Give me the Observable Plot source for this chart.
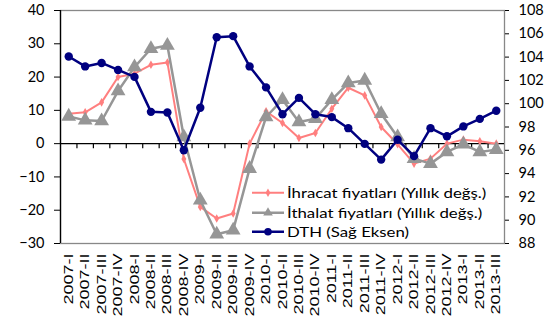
<!DOCTYPE html>
<html><head><meta charset="utf-8">
<script src="https://cdn.jsdelivr.net/npm/d3@7"></script>
<script src="https://cdn.jsdelivr.net/npm/@observablehq/plot@0.6"></script>
<style>
body{margin:0;background:#fff}
#c{position:relative;width:554px;height:317px;overflow:hidden}
#c svg{position:absolute;left:0;top:0}
.leg{position:absolute;left:252px;top:183px;font-family:Lato,sans-serif;font-size:14px;color:#000;line-height:19.5px}
.leg div{display:flex;align-items:center;white-space:nowrap}
.leg svg{position:static!important;margin-right:3px}
.leg span{display:inline-block;transform:scaleX(1.2);transform-origin:0 50%}
</style>
</head><body><div id="c"></div>
<script>
const quarters = ["2007-I","2007-II","2007-III","2007-IV","2008-I","2008-II","2008-III","2008-IV",
  "2009-I","2009-II","2009-III","2009-IV","2010-I","2010-II","2010-III","2010-IV",
  "2011-I","2011-II","2011-III","2011-IV","2012-I","2012-II","2012-III","2012-IV",
  "2013-I","2013-II","2013-III"];
const ihracat = [9.0,9.4,12.4,20.0,21.0,23.7,24.4,-4.6,-19.0,-22.5,-21.0,0.0,9.7,6.2,1.7,3.2,
  10.5,16.8,14.5,5.0,-0.2,-6.0,-4.5,0.0,1.2,0.7,0.0];
const ithalat = [8.2,7.0,6.8,15.8,23.0,28.5,29.5,2.0,-17.0,-27.2,-26.0,-7.5,8.0,13.2,6.5,7.5,
  13.2,18.2,19.0,9.0,2.0,-4.5,-6.0,-2.5,-0.2,-2.5,-1.8];
const dth = [104.05,103.2,103.5,102.9,102.3,99.3,99.25,96.0,99.65,105.7,105.8,103.2,101.4,99.1,
  100.5,99.1,98.85,97.9,96.55,95.2,96.9,95.5,97.9,97.2,98.05,98.7,99.4];
const leftTicks = [-30,-20,-10,0,10,20,30,40];
const rightTicks = [88,90,92,94,96,98,100,102,104,106,108];
const seriesNames = ["İhracat fiyatları (Yıllık değş.)","İthalat fiyatları (Yıllık değş.)","DTH (Sağ Eksen)"];
const colors = ["#ff7f7f","#969696","#000080"];

const L0 = -30, L1 = 40, R0 = 88, R1 = 108;
const toLeft = v => L0 + (v - R0) * (L1 - L0) / (R1 - R0);
const fromLeft = v => R0 + (v - L0) * (R1 - R0) / (L1 - L0);

const rows = quarters.map((q, i) => ({i, q, ex: ihracat[i], im: ithalat[i], d: toLeft(dth[i])}));
const bounds = d3.range(1, quarters.length).map(k => k - 0.5);
const font = "Lato, sans-serif";

const chart = Plot.plot({
  width: 554, height: 317,
  marginLeft: 60, marginRight: 50, marginTop: 10, marginBottom: 74,
  style: {fontFamily: font, fontSize: "14px", color: "#000", background: "transparent"},
  x: {type: "linear", domain: [-0.5, quarters.length - 0.5]},
  y: {domain: [L0, L1]},
  marks: [
    Plot.frame({stroke: "#888", strokeWidth: 1.3}),
    Plot.ruleX([-0.5], {stroke: "#000", strokeWidth: 1.3}),
    Plot.ruleY([0], {stroke: "#000", strokeWidth: 1.3}),
    Plot.ruleX(bounds, {y1: 0, y2: -1.5, stroke: "#000", strokeWidth: 1.2}),
    Plot.axisY(leftTicks, {anchor: "left", tickSize: 6, tickPadding: 10, fontSize: 14.5, fontFamily: font}),
    Plot.axisY(rightTicks.map(toLeft), {anchor: "right", tickSize: 4, tickPadding: 10, fontSize: 14.5, fontFamily: font,
      tickFormat: v => String(Math.round(fromLeft(v)))}),
    Plot.axisX(d3.range(quarters.length), {anchor: "bottom", tickSize: 0, tickPadding: 10, tickRotate: -90,
      tickFormat: i => quarters[i], fontSize: 12.5, fontFamily: "Liberation Sans, Arial, sans-serif", label: null}),
    Plot.line(rows, {x: "i", y: "ex", stroke: colors[0], strokeWidth: 2}),
    Plot.dot(rows, {x: "i", y: "ex", symbol: "diamond", r: 2.6, fill: colors[0]}),
    Plot.line(rows, {x: "i", y: "im", stroke: colors[1], strokeWidth: 2.5}),
    Plot.dot(rows, {x: "i", y: "im", symbol: "triangle", r: 5.5, fill: colors[1]}),
    Plot.line(rows, {x: "i", y: "d", stroke: colors[2], strokeWidth: 2.5}),
    Plot.dot(rows, {x: "i", y: "d", r: 4.2, fill: colors[2]})
  ]
});
// stretch rotated x tick labels along their reading direction, like the original
d3.select(chart).selectAll('g[aria-label="x-axis tick label"] text').each(function() {
  const t = this.getAttribute("transform") || "";
  this.setAttribute("transform", t + " scale(1.44,1)");
});
const c = document.getElementById("c");
c.appendChild(chart);

const leg = document.createElement("div");
leg.className = "leg";
seriesNames.forEach((name, k) => {
  const row = document.createElement("div");
  const s = d3.create("svg").attr("width", 32).attr("height", 19.5);
  s.append("line").attr("x1", 0).attr("x2", 32).attr("y1", 9.75).attr("y2", 9.75)
    .attr("stroke", colors[k]).attr("stroke-width", k === 0 ? 2 : 2.5);
  const sym = d3.symbol().type(k === 0 ? d3.symbolDiamond : k === 1 ? d3.symbolTriangle : d3.symbolCircle)
    .size(k === 0 ? 20 : k === 1 ? 40 : 45);
  s.append("path").attr("d", sym()).attr("transform", "translate(16,9.75)").attr("fill", colors[k]);
  row.appendChild(s.node());
  const t = document.createElement("span");
  t.textContent = name;
  row.appendChild(t);
  leg.appendChild(row);
});
c.appendChild(leg);
</script>
</body></html>
